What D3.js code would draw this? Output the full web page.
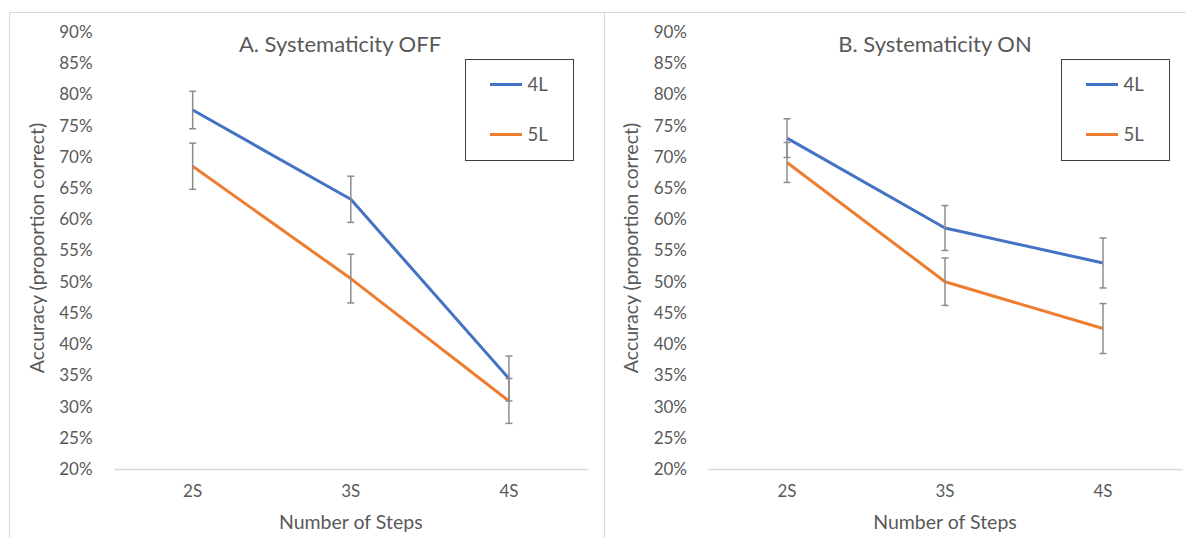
<!DOCTYPE html>
<html>
<head>
<meta charset="utf-8">
<script src="https://cdn.jsdelivr.net/npm/d3@7"></script>
<style>
  body { margin: 0; background: #fff; }
  text { font-family: Lato, "Open Sans", sans-serif; fill: #595959; }
</style>
</head>
<body>
<div id="dataviz"></div>
<script>
// values
const steps = ["2S", "3S", "4S"];
const seriesNames = ["4L", "5L"];
const yTicks = [0.2, 0.25, 0.3, 0.35, 0.4, 0.45, 0.5, 0.55, 0.6, 0.65, 0.7, 0.75, 0.8, 0.85, 0.9];

const offFour = [0.775, 0.632, 0.345];
const offFourErr = [0.030, 0.037, 0.036];
const offFive = [0.685, 0.505, 0.309];
const offFiveErr = [0.037, 0.039, 0.036];

const onFour = [0.730, 0.586, 0.530];
const onFourErr = [0.031, 0.036, 0.040];
const onFive = [0.691, 0.500, 0.425];
const onFiveErr = [0.032, 0.038, 0.040];

const colors = ["#4472C4", "#ED7D31"];

const W = 1186, H = 538;
const svg = d3.select("#dataviz").append("svg")
    .attr("width", W).attr("height", H);

// outer frame + divider
svg.append("path")
    .attr("d", `M9.5,${H} V12.5 H${W} M604.5,12.5 V${H}`)
    .attr("fill", "none").attr("stroke", "#d9d9d9").attr("stroke-width", 1);

const panels = [
  {title: "A. Systematicity OFF", x0: 113.6, x1: 588, titleX: 340,
   legendX: 465.5, series: [[offFour, offFourErr], [offFive, offFiveErr]]},
  {title: "B. Systematicity ON", x0: 708, x1: 1182, titleX: 935,
   legendX: 1061.5, series: [[onFour, onFourErr], [onFive, onFiveErr]]}
];

const yScale = d3.scaleLinear().domain([0.2, 0.9]).range([469, 32]);

panels.forEach(p => {
  const g = svg.append("g");
  const xScale = d3.scaleBand().domain(steps).range([p.x0, p.x1]);
  const cx = d => xScale(d) + xScale.bandwidth() / 2;

  // y axis labels only (no line, no ticks)
  const yAxis = g.append("g")
      .attr("transform", `translate(${p.x0 - 18},0)`)
      .call(d3.axisLeft(yScale).tickValues(yTicks).tickSize(0).tickFormat(d3.format(".0%")));
  yAxis.select(".domain").remove();
  yAxis.selectAll("text").style("font-size", "17px").style("fill", "#595959");

  // x axis
  const xAxis = g.append("g")
      .attr("transform", `translate(0,${yScale(0.2)})`)
      .call(d3.axisBottom(xScale).tickSize(0).tickPadding(16));
  xAxis.select(".domain").attr("stroke", "#d9d9d9").attr("stroke-width", 1.3);
  xAxis.selectAll("text").style("font-size", "17px").style("fill", "#595959");

  // lines
  const line = d3.line().x((d, i) => cx(steps[i])).y(d => yScale(d));
  p.series.forEach((s, k) => {
    g.append("path").datum(s[0])
        .attr("d", line)
        .attr("fill", "none")
        .attr("stroke", colors[k])
        .attr("stroke-width", 3)
        .attr("stroke-linejoin", "round");
  });

  // error bars
  p.series.forEach(s => {
    s[0].forEach((v, i) => {
      const x = cx(steps[i]);
      const lo = yScale(v - s[1][i]), hi = yScale(v + s[1][i]);
      const eb = g.append("g").attr("stroke", "#8c8c8c").attr("stroke-width", 1.5);
      eb.append("line").attr("x1", x).attr("x2", x).attr("y1", lo).attr("y2", hi);
      eb.append("line").attr("x1", x - 3.5).attr("x2", x + 3.5).attr("y1", lo).attr("y2", lo);
      eb.append("line").attr("x1", x - 3.5).attr("x2", x + 3.5).attr("y1", hi).attr("y2", hi);
    });
  });

  // titles
  g.append("text").attr("x", p.titleX).attr("y", 52)
      .attr("text-anchor", "middle").style("font-size", "22px")
      .text(p.title);
  g.append("text").attr("x", (p.x0 + p.x1) / 2).attr("y", 529)
      .attr("text-anchor", "middle").style("font-size", "19.5px")
      .text("Number of Steps");
  g.append("text")
      .attr("transform", `translate(${p.x0 - 70},${248}) rotate(-90)`)
      .attr("text-anchor", "middle").style("font-size", "19.5px")
      .text("Accuracy (proportion correct)");

  // legend
  const lg = g.append("g").attr("transform", `translate(${p.legendX},59.5)`);
  lg.append("rect").attr("width", 108).attr("height", 101)
      .attr("fill", "#fff").attr("stroke", "#404040").attr("stroke-width", 1);
  seriesNames.forEach((name, k) => {
    const yy = 25 + k * 50;
    lg.append("line").attr("x1", 24.5).attr("x2", 56.5).attr("y1", yy).attr("y2", yy)
        .attr("stroke", colors[k]).attr("stroke-width", 3);
    lg.append("text").attr("x", 62).attr("y", yy + 6).style("font-size", "18.5px").text(name);
  });
});
</script>
</body>
</html>
